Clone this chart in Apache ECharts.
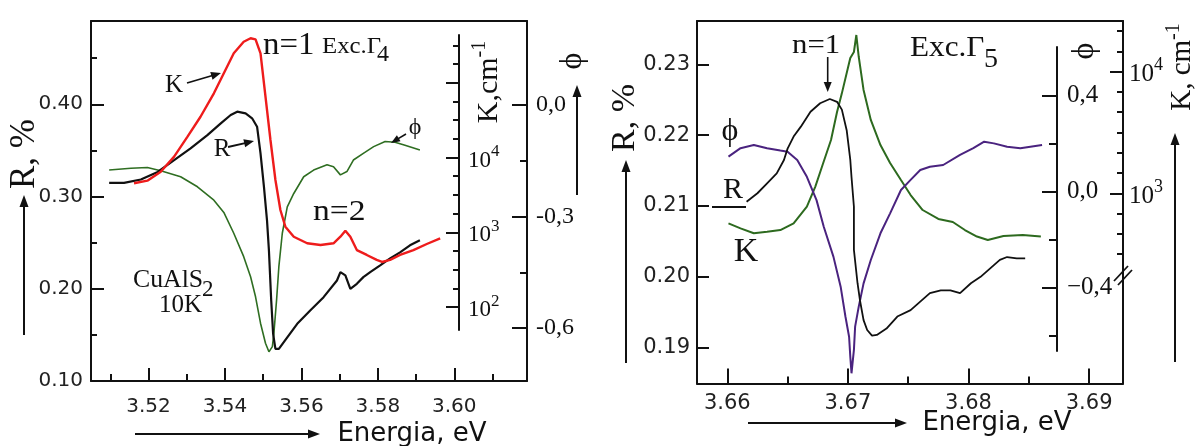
<!DOCTYPE html>
<html><head><meta charset="utf-8">
<script src="https://cdn.jsdelivr.net/npm/echarts@6/dist/echarts.min.js"></script>
<style>html,body{margin:0;padding:0;background:#fff}#c{width:1199px;height:446px}</style>
</head><body><div id="c"></div>
<script>
// ================= LEFT PANEL: CuAlS2, 10K, Exc.Γ4 =================
// Reflectivity R (%) vs energy (eV)
const energyL_R = [3.5097,3.5136,3.5180,3.5224,3.5267,3.5310,3.5354,3.5389,3.5415,3.5432,3.5454,3.5471,3.5484,3.5493,3.5502,3.5510,3.5515,3.5521,3.5526,3.5532,3.5541,3.5563,3.5589,3.5623,3.5658,3.5693,3.5702,3.5715,3.5728,3.5745,3.5762,3.5780,3.5806,3.5832,3.5858,3.5884,3.5910];
const reflL = [0.3148,0.3148,0.3185,0.3267,0.3395,0.3522,0.3666,0.3793,0.3884,0.3920,0.3902,0.3848,0.3757,0.3467,0.3104,0.2742,0.2416,0.1873,0.1511,0.1348,0.1348,0.1474,0.1620,0.1764,0.1909,0.2090,0.2180,0.2145,0.2000,0.2054,0.2126,0.2180,0.2253,0.2329,0.2395,0.2471,0.2525];
// Absorption K (cm^-1) vs energy
const energyL_K = [3.5162,3.5197,3.5232,3.5267,3.5302,3.5336,3.5371,3.5397,3.5423,3.5449,3.5467,3.5480,3.5493,3.5506,3.5519,3.5532,3.5545,3.5558,3.5580,3.5615,3.5650,3.5684,3.5702,3.5715,3.5728,3.5745,3.5771,3.5797,3.5811,3.5832,3.5858,3.5893,3.5928,3.5963];
const absorpL = [4520,4900,6460,10260,18970,35080,72110,133700,247200,353200,392600,380200,247200,65010,17140,5000,1986,1189,873,713,676,713,873,1050,873,579,498,427,401,427,498,579,698,832];
// Phase φ vs energy
const energyL_phi = [3.5097,3.5154,3.5197,3.5232,3.5284,3.5328,3.5371,3.5397,3.5423,3.5449,3.5467,3.5480,3.5493,3.5506,3.5515,3.5524,3.5528,3.5535,3.5541,3.5550,3.5563,3.5580,3.5606,3.5632,3.5667,3.5684,3.5702,3.5719,3.5736,3.5762,3.5789,3.5819,3.5845,3.5871,3.5910];
const phaseL = [-0.175,-0.170,-0.168,-0.177,-0.193,-0.220,-0.256,-0.289,-0.345,-0.408,-0.462,-0.516,-0.587,-0.641,-0.664,-0.650,-0.614,-0.525,-0.435,-0.345,-0.274,-0.238,-0.193,-0.175,-0.161,-0.166,-0.188,-0.179,-0.148,-0.130,-0.112,-0.098,-0.100,-0.108,-0.121];

// ================= RIGHT PANEL: Exc.Γ5 =================
const energyR_R = [3.6616,3.6625,3.6633,3.6641,3.6647,3.6650,3.6655,3.6661,3.6669,3.6677,3.6685,3.6691,3.6695,3.6699,3.6702,3.6703,3.6705,3.6705,3.6708,3.6710,3.6713,3.6716,3.6720,3.6724,3.6732,3.6741,3.6752,3.6760,3.6768,3.6777,3.6785,3.6793,3.6802,3.6810,3.6818,3.6826,3.6832,3.6840,3.6847];
const reflR = [0.2106,0.2118,0.2132,0.2146,0.2165,0.2181,0.2198,0.2212,0.2233,0.2245,0.2251,0.2247,0.2236,0.2207,0.2165,0.2141,0.2099,0.2038,0.1991,0.1967,0.1939,0.1925,0.1917,0.1918,0.1927,0.1944,0.1953,0.1965,0.1977,0.1981,0.1981,0.1977,0.1991,0.2000,0.2012,0.2024,0.2028,0.2026,0.2026];
const energyR_K = [3.6601,3.6611,3.6622,3.6633,3.6644,3.6655,3.6666,3.6673,3.6679,3.6686,3.6691,3.6695,3.6701,3.6702,3.6705,3.6707,3.6709,3.6713,3.6719,3.6727,3.6735,3.6744,3.6752,3.6762,3.6775,3.6787,3.6797,3.6807,3.6816,3.6829,3.6845,3.6860];
const absorpR = [566,515,469,483,499,566,776,1135,1710,2742,4667,6637,11800,12970,14520,20040,13270,7079,4009,2495,1774,1285,968,729,615,581,499,441,413,446,454,441];
const energyR_phi = [3.6601,3.6611,3.6622,3.6633,3.6644,3.6650,3.6658,3.6666,3.6674,3.6680,3.6688,3.6694,3.6698,3.6701,3.6702,3.6703,3.6705,3.6706,3.6709,3.6713,3.6719,3.6727,3.6735,3.6744,3.6752,3.6760,3.6768,3.6779,3.6793,3.6804,3.6813,3.6821,3.6832,3.6843,3.6861];
const phaseR = [0.146,0.181,0.194,0.181,0.171,0.166,0.132,0.062,-0.035,-0.146,-0.270,-0.395,-0.520,-0.603,-0.686,-0.755,-0.658,-0.561,-0.478,-0.381,-0.284,-0.173,-0.090,0.007,0.049,0.090,0.104,0.111,0.153,0.181,0.208,0.201,0.187,0.181,0.194];

// ================= Tick values =================
const xMajorL = [3.52,3.54,3.56,3.58,3.60];
const xMinorL = [3.51,3.53,3.55,3.57,3.59,3.61];
const rMajorL = [0.10,0.20,0.30,0.40];
const rMinorL = [0.15,0.25,0.35,0.45];
const phiMajorL = [-0.6,-0.3,0];
const phiMinorL = [-0.45,-0.15];
const kExpMajorL = [2,3,4,5];
const kExpLabelL = [2,3,4];
const kExpMinorL = [2.25,2.5,2.75,3.25,3.5,3.75,4.25,4.5,4.75,5.25,5.5];

const xMajorR = [3.66,3.67,3.68,3.69];
const xMinorR = [3.665,3.675,3.685];
const rMajorR = [0.19,0.20,0.21,0.22,0.23];
const kExpMajorR = [3,4];
const kExpMinorR = [2.5,2.667,2.833,3.167,3.333,3.5,3.667,3.833,4.167,4.333];
const phiMajorR = [-0.4,0,0.4];
const phiMinorR = [-0.6,-0.2,0.2];

const SERIF = '"Liberation Serif","Times New Roman",serif';
const SANS = '"DejaVu Sans","Liberation Sans",sans-serif';
const INK = '#111';

const zip = (a,b) => a.map((v,i)=>[v,b[i]]);
const commaFmt = (neg) => v => {
  if (Math.abs(v) < 1e-9) return '0,0';
  return (v<0?neg:'') + Math.abs(v).toFixed(1).replace('.',',');
};
const supRich = (size) => ({
  b:{fontSize:size,fontFamily:SERIF,color:INK,lineHeight:size+6,verticalAlign:'bottom'},
  s:{fontSize:Math.round(size*0.72),fontFamily:SERIF,color:INK,lineHeight:size,verticalAlign:'top'}
});

function xAx(grid,min,max,opt){
  return Object.assign({gridIndex:grid,type:'value',min,max,position:'bottom',
    axisLine:{show:false,onZero:false,lineStyle:{color:INK,width:2}},
    axisTick:{show:false},axisLabel:{show:false},splitLine:{show:false}},opt);
}
function yAx(grid,min,max,opt){
  return Object.assign({gridIndex:grid,type:'value',min,max,position:'left',
    axisLine:{show:false,onZero:false,lineStyle:{color:INK,width:2}},
    axisTick:{show:false},axisLabel:{show:false},splitLine:{show:false}},opt);
}
const tick = (vals,len) => ({show:true,inside:true,length:len,customValues:vals,lineStyle:{color:INK,width:2}});
const line = {show:true,onZero:false,lineStyle:{color:INK,width:2}};

// axis extents (matching the picture's frame geometry)
const xL = [3.50495,3.61902], rL = [0.10,0.4903], phL = [-0.7425,0.226], kL = [1.012,5.825], kDispL = [1.694,5.638];
const xR = [3.65749,3.69281], rR = [0.18495,0.23611], kR = [1.436,4.417], phR = [-0.7975,0.7098], phDispR = [-0.6624,0.6017];

const xAxis = [
  // 0..3 left
  xAx(0,xL[0],xL[1],{axisLine:line,axisTick:tick(xMajorL,13),
    axisLabel:{show:true,customValues:xMajorL,formatter:v=>v.toFixed(2),fontFamily:SANS,fontSize:20,color:'#222',margin:16}}),
  xAx(0,xL[0],xL[1],{axisTick:tick(xMinorL,7)}),
  xAx(0,xL[0],xL[1],{position:'top',axisLine:line}),
  xAx(1,xL[0],xL[1],{show:false}),
  // 4..7 right
  xAx(2,xR[0],xR[1],{axisLine:line,axisTick:tick(xMajorR,15),
    axisLabel:{show:true,customValues:xMajorR,formatter:v=>v.toFixed(2),fontFamily:SANS,fontSize:21,color:'#222',margin:10}}),
  xAx(2,xR[0],xR[1],{axisTick:tick(xMinorR,7)}),
  xAx(2,xR[0],xR[1],{position:'top',axisLine:line}),
  xAx(3,xR[0],xR[1],{show:false})
];

const yAxis = [
  // 0 R left major
  yAx(0,rL[0],rL[1],{axisLine:line,axisTick:tick(rMajorL,13),
    axisLabel:{show:true,customValues:rMajorL,formatter:v=>v.toFixed(2),fontFamily:SANS,fontSize:20,color:'#222',margin:8}}),
  // 1 R left minor
  yAx(0,rL[0],rL[1],{axisTick:tick(rMinorL,6)}),
  // 2 phase right (frame)
  yAx(0,phL[0],phL[1],{position:'right',axisLine:line,axisTick:tick(phiMajorL,15),
    axisLabel:{show:true,customValues:phiMajorL,formatter:commaFmt('-'),fontFamily:SERIF,fontSize:24,color:INK,margin:9}}),
  // 3 phase minor
  yAx(0,phL[0],phL[1],{position:'right',axisTick:tick(phiMinorL,7)}),
  // 4 hidden log K axis for the red curve
  {gridIndex:0,type:'log',logBase:10,min:Math.pow(10,kL[0]),max:Math.pow(10,kL[1]),position:'right',show:false,axisLine:{onZero:false},splitLine:{show:false}},
  // 5 K display axis (decades), inside the left panel
  yAx(1,kDispL[0],kDispL[1],{position:'right',offset:-68,axisLine:line,axisTick:tick(kExpMajorL,13),
    axisLabel:{show:true,customValues:kExpLabelL,formatter:v=>'{b|10}{s|'+Math.round(v)+'}',rich:supRich(23),margin:9}}),
  // 6 K display minor
  yAx(1,kDispL[0],kDispL[1],{position:'right',offset:-68,axisTick:tick(kExpMinorL,6)}),
  // 7 R right panel
  yAx(2,rR[0],rR[1],{axisLine:line,axisTick:tick(rMajorR,12),
    axisLabel:{show:true,customValues:rMajorR,formatter:v=>v.toFixed(2),fontFamily:SANS,fontSize:21,color:'#222',margin:7}}),
  // 8 K right frame axis (decades)
  yAx(2,kR[0],kR[1],{position:'right',axisLine:line,axisTick:tick(kExpMajorR,13),
    axisLabel:{show:true,customValues:kExpMajorR,formatter:v=>'{b|10}{s|'+Math.round(v)+'}',rich:supRich(25),margin:6}}),
  // 9 K right minor
  yAx(2,kR[0],kR[1],{position:'right',axisTick:tick(kExpMinorR,6)}),
  // 10 hidden log K for green
  {gridIndex:2,type:'log',logBase:10,min:Math.pow(10,kR[0]),max:Math.pow(10,kR[1]),position:'right',show:false,axisLine:{onZero:false},splitLine:{show:false}},
  // 11 hidden phase for purple
  yAx(2,phR[0],phR[1],{position:'right',show:false}),
  // 12 phase display axis (right panel)
  yAx(3,phDispR[0],phDispR[1],{position:'right',offset:-66,axisLine:line,axisTick:tick(phiMajorR,15),
    axisLabel:{show:true,customValues:phiMajorR,formatter:commaFmt('\u2212'),fontFamily:SERIF,fontSize:25,color:INK,margin:10}}),
  // 13 phase display minor
  yAx(3,phDispR[0],phDispR[1],{position:'right',offset:-66,axisTick:tick(phiMinorR,8)})
];

const grid = [
  {left:91,top:21,width:436,height:360,containLabel:false,outerBoundsMode:'none'},
  {left:91,top:35,width:436,height:295,containLabel:false,outerBoundsMode:'none'},
  {left:697,top:21,width:426,height:362.5,containLabel:false,outerBoundsMode:'none'},
  {left:697,top:47,width:426,height:304,containLabel:false,outerBoundsMode:'none'}
];

const ln = (color,w) => ({color,width:w});
const series = [
  {type:'line',name:'phi L',xAxisIndex:0,yAxisIndex:2,data:zip(energyL_phi,phaseL),showSymbol:false,symbol:'none',lineStyle:ln('#2f6e22',1.6),z:2},
  {type:'line',name:'R L',xAxisIndex:0,yAxisIndex:0,data:zip(energyL_R,reflL),showSymbol:false,symbol:'none',lineStyle:ln('#111',2.2),z:3},
  {type:'line',name:'K L',xAxisIndex:0,yAxisIndex:4,data:zip(energyL_K,absorpL),showSymbol:false,symbol:'none',lineStyle:ln('#ee1c1c',2.4),z:4},
  {type:'line',name:'K R',xAxisIndex:4,yAxisIndex:10,data:zip(energyR_K,absorpR),showSymbol:false,symbol:'none',lineStyle:ln('#2d6a1f',2),z:2},
  {type:'line',name:'phi R',xAxisIndex:4,yAxisIndex:11,data:zip(energyR_phi,phaseR),showSymbol:false,symbol:'none',lineStyle:ln('#4a237f',2),z:3},
  {type:'line',name:'R R',xAxisIndex:4,yAxisIndex:7,data:zip(energyR_R,reflR),showSymbol:false,symbol:'none',lineStyle:ln('#111',1.8),z:4}
];

// ---------- annotation helpers ----------
function T(x,y,text,size,family,o){
  o=o||{};
  const st={text,fontSize:size,fontFamily:family,fill:INK,
    align:o.align||'left',verticalAlign:'middle',textAlign:o.align||'left',textVerticalAlign:'middle'};
  if(o.rich) st.rich=o.rich;
  const e={type:'text',x,y,z:100,style:st};
  if(o.rot) e.rotation=o.rot;
  if(o.sx) e.scaleX=o.sx;
  return e;
}
function A(x1,y1,x2,y2,hl,hw,lw){
  hl=hl||12; hw=hw||4.5; lw=lw||2;
  const a=Math.atan2(y2-y1,x2-x1),c=Math.cos(a),s=Math.sin(a);
  const bx=x2-hl*c,by=y2-hl*s;
  return [
    {type:'line',z:100,shape:{x1,y1,x2:bx+2*c,y2:by+2*s},style:{stroke:INK,lineWidth:lw}},
    {type:'polygon',z:100,shape:{points:[[x2,y2],[bx-hw*s,by+hw*c],[bx+hw*s,by-hw*c]]},style:{fill:INK}}
  ];
}
function Lseg(x1,y1,x2,y2,w){return {type:'line',z:100,shape:{x1,y1,x2,y2},style:{stroke:INK,lineWidth:w||2}};}
const ROT = Math.PI/2;
const richK = (sz)=>({a:{fontSize:sz,fontFamily:SERIF,fill:INK,color:INK,lineHeight:sz+4,verticalAlign:'bottom'},
                       s:{fontSize:Math.round(sz*0.68),fontFamily:SERIF,fill:INK,color:INK,lineHeight:sz,verticalAlign:'top'}});

const graphic = [].concat(
  // ---- left panel ----
  T(25,154,'R, %',35,SERIF,{align:'center',rot:ROT}),
  A(24,335,24,195),
  T(412,434,'Energia, eV',26,SANS,{align:'center'}),
  A(135,434,320,434),
  T(487,82,'{a|K,cm}{s|-1}',30,SERIF,{align:'center',rot:ROT,rich:richK(30)}),
  T(573,61,'\u03D5',32,SERIF,{align:'center',rot:ROT}),
  A(577,195,577,85),
  T(263,46,'n=1',31,SERIF,{sx:1.06}),
  T(322,47,'Exc.\u0393',23,SERIF,{sx:1.08}),
  T(377,55,'4',24,SERIF),
  T(174,85,'K',25,SERIF,{align:'center'}),
  A(187,83,221,73,10,4,1.8),
  T(222,149,'R',25,SERIF,{align:'center'}),
  A(228,147,254,141,10,4,1.8),
  T(415,128,'\u03D5',24,SERIF,{align:'center'}),
  A(406,134,391,143,9,3.5,1.6),
  T(313,212,'n=2',30,SERIF,{sx:1.12}),
  T(133,280,'CuAlS',25,SERIF,{sx:1.03}),
  T(202,290,'2',23,SERIF),
  T(159,305,'10K',25,SERIF),
  // ---- right panel ----
  T(625,118,'R, %',34,SERIF,{align:'center',rot:ROT}),
  A(626,363,626,160),
  T(997,423,'Energia, eV',26,SANS,{align:'center'}),
  A(748,423,907,423),
  T(1180,67,'{a|K, cm}{s|-1}',29,SERIF,{align:'center',rot:ROT,rich:richK(29)}),
  A(1175,362,1175,133),
  T(1085,51,'\u03D5',32,SERIF,{align:'center',rot:ROT}),
  T(792,46,'n=1',28,SERIF,{sx:1.1}),
  A(827.7,57,827.7,92,10,4,1.6),
  T(910,48,'Exc.\u0393',30,SERIF,{sx:1.04}),
  T(984,60,'5',28,SERIF),
  T(730,132,'\u03D5',32,SERIF,{align:'center'}),
  T(733,190,'R',30,SERIF,{align:'center'}),
  Lseg(712,207,746,207,1.8),
  T(746,252,'K',34,SERIF,{align:'center'}),
  // axis break on the right K axis
  Lseg(1114,281,1128,266,1.8),
  Lseg(1118,285,1132,270,1.8)
);

const chart = echarts.init(document.getElementById('c'),null,{renderer:'canvas'});
chart.setOption({animation:false,backgroundColor:'#fff',grid,xAxis,yAxis,series,graphic});
</script></body></html>
